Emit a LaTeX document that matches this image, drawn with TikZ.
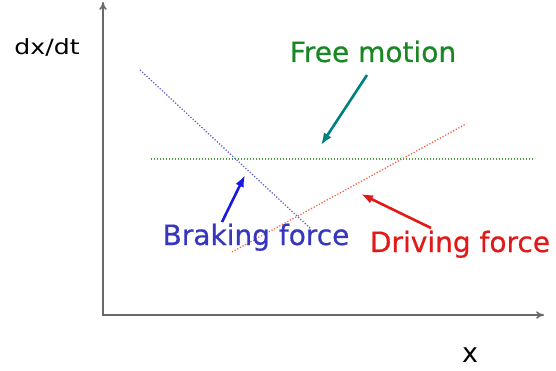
\documentclass[tikz,border=0pt]{standalone}
\usepackage{fontspec}
\setmainfont{DejaVu Sans}
\newfontfamily\widefont[FakeStretch=1.2]{DejaVu Sans}
\newfontfamily\labelfont[FakeBold=0.6]{DejaVu Sans}
\usetikzlibrary{arrows.meta}
\definecolor{motionAxis}{RGB}{105,105,105}
\definecolor{motionGreen}{RGB}{25,135,35}
\definecolor{motionLineGreen}{RGB}{70,160,60}
\definecolor{motionTeal}{RGB}{0,128,128}
\definecolor{motionBlue}{RGB}{55,55,190}
\definecolor{motionArrowBlue}{RGB}{25,25,225}
\definecolor{motionLineBlue}{RGB}{95,95,200}
\definecolor{motionRed}{RGB}{225,25,25}
\definecolor{motionLineRed}{RGB}{240,95,65}

\begin{document}
\begin{tikzpicture}[
  x=1pt,y=-1pt,
  axis/.style={-{To[length=2.8mm,width=2.6mm]},line width=1.6pt,motionAxis},
  curve/.style={line width=1.3pt,dash pattern=on 1.2pt off 1.8pt},
  pointer/.style={-{Latex[length=4.2mm,width=3.2mm]},line width=2.6pt},
  label/.style={anchor=base,inner sep=0pt,font=\labelfont\fontsize{28}{30}\selectfont}
]
  \useasboundingbox (0,0) rectangle (556,371);
  % axes
  \coordinate (origin) at (103,315);
  \coordinate (ytop) at (103,2);
  \coordinate (xend) at (544,315);
  \draw[axis] (origin) -- (ytop);
  \draw[axis] ([xshift=-0.8pt]origin) -- (xend);
  \node[label,font=\widefont\fontsize{21}{24}\selectfont] (ylabel) at (47,55) {dx/dt};
  \node[label,font=\fontsize{27}{30}\selectfont] (xlabel) at (470,362) {x};
  % the three lines
  \coordinate (brakeStart) at (140,70);
  \coordinate (brakeEnd) at (311,229);
  \coordinate (freeStart) at (151,159);
  \coordinate (freeEnd) at (534,159);
  \coordinate (driveStart) at (232,252);
  \coordinate (driveEnd) at (466,124);
  \draw[curve,motionLineBlue] (brakeStart) -- (brakeEnd);
  \draw[curve,motionLineGreen] (freeStart) -- (freeEnd);
  \draw[curve,motionLineRed] (driveStart) -- (driveEnd);
  % labels and pointers
  \node[label,text=motionGreen] (free) at (373,62) {Free motion};
  \node[label,text=motionBlue] (brake) at (256,245) {Braking force};
  \node[label,text=motionRed] (drive) at (460,252) {Driving force};
  \coordinate (freeTail) at (367,75);
  \coordinate (freeTip) at (321,145);
  \coordinate (brakeTail) at (222,222);
  \coordinate (brakeTip) at (245,175);
  \coordinate (driveTail) at (431,228);
  \coordinate (driveTip) at (361,194);
  \draw[pointer,motionTeal] (freeTail) -- (freeTip);
  \draw[pointer,motionArrowBlue] (brakeTail) -- (brakeTip);
  \draw[pointer,motionRed] (driveTail) -- (driveTip);
\end{tikzpicture}
\end{document}
